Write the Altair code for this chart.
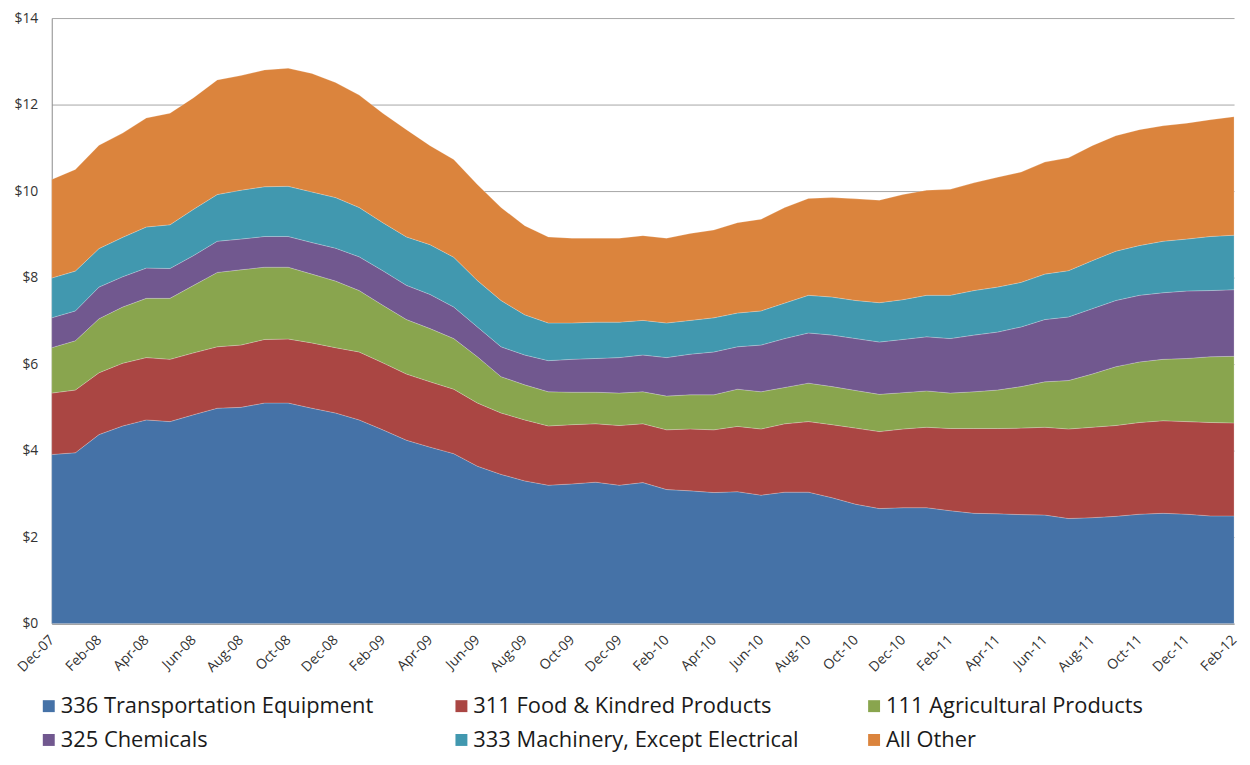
import altair as alt
import pandas as pd

months = ["Dec-07", "Jan-08", "Feb-08", "Mar-08", "Apr-08", "May-08", "Jun-08", "Jul-08",
          "Aug-08", "Sep-08", "Oct-08", "Nov-08", "Dec-08", "Jan-09", "Feb-09", "Mar-09",
          "Apr-09", "May-09", "Jun-09", "Jul-09", "Aug-09", "Sep-09", "Oct-09", "Nov-09",
          "Dec-09", "Jan-10", "Feb-10", "Mar-10", "Apr-10", "May-10", "Jun-10", "Jul-10",
          "Aug-10", "Sep-10", "Oct-10", "Nov-10", "Dec-10", "Jan-11", "Feb-11", "Mar-11",
          "Apr-11", "May-11", "Jun-11", "Jul-11", "Aug-11", "Sep-11", "Oct-11", "Nov-11",
          "Dec-11", "Jan-12", "Feb-12"]

tick_labels = months[::2]

series_names = ["336 Transportation Equipment", "311 Food & Kindred Products",
                "111 Agricultural Products", "325 Chemicals",
                "333 Machinery, Except Electrical", "All Other"]

transportation = [3.91, 3.95, 4.37, 4.57, 4.71, 4.67, 4.83, 4.98, 5.00, 5.10, 5.10, 4.98, 4.87,
                  4.71, 4.48, 4.24, 4.08, 3.93, 3.64, 3.45, 3.30, 3.20, 3.23, 3.27, 3.20, 3.26,
                  3.10, 3.07, 3.03, 3.05, 2.97, 3.04, 3.04, 2.91, 2.76, 2.66, 2.68, 2.68, 2.61,
                  2.55, 2.54, 2.52, 2.51, 2.43, 2.45, 2.48, 2.53, 2.55, 2.53, 2.49, 2.49]
food = [1.42, 1.45, 1.43, 1.45, 1.44, 1.44, 1.43, 1.42, 1.44, 1.47, 1.48, 1.51, 1.51, 1.57,
        1.55, 1.53, 1.51, 1.49, 1.46, 1.42, 1.41, 1.37, 1.37, 1.35, 1.38, 1.36, 1.38, 1.43,
        1.45, 1.51, 1.53, 1.58, 1.63, 1.69, 1.76, 1.78, 1.82, 1.86, 1.90, 1.96, 1.97, 2.00,
        2.03, 2.07, 2.09, 2.10, 2.12, 2.14, 2.14, 2.16, 2.15]
agricultural = [1.05, 1.14, 1.25, 1.30, 1.37, 1.41, 1.56, 1.72, 1.74, 1.67, 1.66, 1.59, 1.54,
                1.42, 1.33, 1.26, 1.23, 1.17, 1.07, 0.84, 0.81, 0.79, 0.75, 0.73, 0.75, 0.74,
                0.78, 0.79, 0.81, 0.86, 0.86, 0.84, 0.89, 0.88, 0.87, 0.86, 0.84, 0.84, 0.82,
                0.85, 0.89, 0.96, 1.05, 1.12, 1.23, 1.36, 1.40, 1.42, 1.46, 1.52, 1.54]
chemicals = [0.69, 0.69, 0.73, 0.70, 0.70, 0.69, 0.69, 0.72, 0.71, 0.71, 0.71, 0.73, 0.76,
             0.78, 0.80, 0.79, 0.79, 0.73, 0.69, 0.69, 0.69, 0.72, 0.76, 0.78, 0.82, 0.85,
             0.89, 0.94, 0.99, 0.98, 1.08, 1.13, 1.16, 1.19, 1.20, 1.21, 1.23, 1.25, 1.26,
             1.31, 1.34, 1.38, 1.44, 1.47, 1.51, 1.53, 1.54, 1.54, 1.56, 1.53, 1.54]
machinery = [0.92, 0.92, 0.89, 0.91, 0.95, 1.01, 1.07, 1.08, 1.13, 1.15, 1.16, 1.17, 1.17,
             1.14, 1.11, 1.12, 1.15, 1.15, 1.07, 1.07, 0.93, 0.87, 0.84, 0.84, 0.82, 0.80,
             0.80, 0.78, 0.79, 0.78, 0.79, 0.82, 0.87, 0.88, 0.88, 0.91, 0.92, 0.96, 1.00,
             1.03, 1.04, 1.03, 1.05, 1.07, 1.11, 1.14, 1.15, 1.19, 1.20, 1.25, 1.26]
all_other = [2.28, 2.35, 2.39, 2.41, 2.52, 2.58, 2.58, 2.65, 2.65, 2.70, 2.73, 2.74, 2.66,
             2.60, 2.53, 2.48, 2.29, 2.26, 2.22, 2.15, 2.06, 1.99, 1.96, 1.94, 1.94, 1.96,
             1.96, 2.01, 2.03, 2.09, 2.12, 2.21, 2.24, 2.30, 2.35, 2.37, 2.43, 2.43, 2.45,
             2.49, 2.54, 2.55, 2.59, 2.61, 2.66, 2.67, 2.68, 2.67, 2.68, 2.70, 2.74]

colors = ["#4572A7", "#AA4643", "#89A54E", "#71588F", "#4198AF", "#DB843D"]
y_ticks = [0, 2, 4, 6, 8, 10, 12, 14]

all_series = [transportation, food, agricultural, chemicals, machinery, all_other]
rows = []
for k, (name, vals) in enumerate(zip(series_names, all_series)):
    for m, v in zip(months, vals):
        rows.append({"month": m, "series": name, "value": v, "order": k})
df = pd.DataFrame(rows)

FONT = "Open Sans"

chart = alt.Chart(df).mark_area(stroke="white", strokeWidth=0.6, strokeOpacity=0.35).encode(
    x=alt.X("month:O", sort=months, title=None,
            scale=alt.Scale(type="point", padding=0),
            axis=alt.Axis(values=tick_labels, labelAngle=-45, labelAlign="right",
                          labelBaseline="middle", labelPadding=14, labelFontSize=14,
                          labelColor="#333333", labelFont=FONT, ticks=False,
                          labelOverlap=False, labelBound=False,
                          domainColor="#8a8a8a", grid=False)),
    y=alt.Y("value:Q", stack="zero", title=None,
            scale=alt.Scale(domain=[0, 14], nice=False),
            axis=alt.Axis(values=y_ticks, labelExpr="'$' + datum.value", labelFontSize=14,
                          labelColor="#333333", labelFont=FONT, ticks=False, labelPadding=14,
                          domainColor="#8a8a8a", gridColor="#a6a6a6", gridWidth=1)),
    color=alt.Color("series:N", sort=series_names,
                    scale=alt.Scale(domain=series_names, range=colors),
                    legend=alt.Legend(title=None, orient="none", legendX=-14, legendY=681,
                                      columns=3, direction="horizontal", gridAlign="all",
                                      symbolType="square", symbolSize=144,
                                      symbolStrokeWidth=0, labelFontSize=22,
                                      labelFont=FONT, labelColor="#1a1a1a",
                                      labelLimit=500, columnPadding=64, rowPadding=12,
                                      labelOffset=1)),
    order=alt.Order("order:Q", sort="ascending"),
).properties(
    width=1189, height=609,
    autosize=alt.AutoSizeParams(type="none"),
    padding={"left": 44, "top": 8, "right": 8, "bottom": 128},
).configure_view(stroke=None)

chart.save("out.html", embed_options={"renderer": "svg", "actions": False})
